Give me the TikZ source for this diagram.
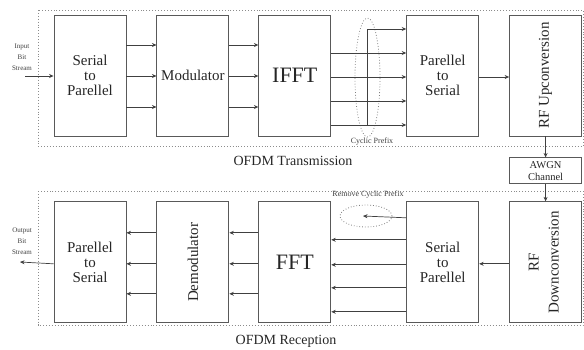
\documentclass[tikz,border=0pt]{standalone}
\usepackage{fontspec}
\setmainfont{Liberation Serif}
\usetikzlibrary{arrows.meta,positioning,shapes.geometric}

\begin{document}
\begin{tikzpicture}[
  x=1pt, y=-1pt,
  >={Stealth[length=4.5pt,width=4pt]},
  blk/.style={draw=black!65, line width=0.9pt, align=center, minimum width=72pt, minimum height=121pt, inner sep=0pt, font=\fontsize{15}{15}\selectfont, text=black!85},
  chan/.style={draw=black!65, line width=0.9pt, align=center, minimum width=72pt, minimum height=26pt, inner sep=0pt, font=\fontsize{10.5}{12}\selectfont, text=black!85},
  ofdmframe/.style={draw=black!45, dotted, line width=0.9pt},
  link/.style={->, draw=black!75, line width=0.7pt},
  tinylbl/.style={align=center, text=black!75, inner sep=0pt, font=\fontsize{7}{11}\selectfont},
  notelbl/.style={text=black!75, inner sep=0pt, font=\fontsize{8}{9}\selectfont},
  caplbl/.style={text=black!85, inner sep=0pt, font=\fontsize{14}{16}\selectfont},
  cpring/.style={ellipse, draw=black!50, dotted, line width=0.8pt, inner sep=0pt},
  node distance=30pt
]
\useasboundingbox (0,0) rectangle (584,349);

% dotted frames
\draw[ofdmframe] (38,10) rectangle (583,146);
\draw[ofdmframe] (38,191) rectangle (583,325);

% transmitter
\node[blk] (sp) at (90,75.5) {Serial\\to\\Parellel};
\node[blk, right=of sp] (mod) {Modulator};
\node[blk, right=29pt of mod, font=\fontsize{22}{22}\selectfont] (ifft) {IFFT};
\node[blk, right=75pt of ifft] (ps) {Parellel\\to\\Serial};
\node[blk, right=of ps] (rfu) {\rotatebox{90}{RF Upconversion}};
\node[chan, below=21pt of rfu] (awgn) {AWGN\\Channel};

% receiver
\node[blk, below=17pt of awgn] (rfd) {\rotatebox{90}{\begin{tabular}{@{}c@{}}RF\\[5pt]Downconversion\end{tabular}}};
\node[blk, left=of rfd] (sp2) {Serial\\to\\Parellel};
\node[blk, left=75pt of sp2, font=\fontsize{22}{22}\selectfont] (fft) {FFT};
\node[blk, left=29pt of fft] (dem) {\rotatebox{90}{Demodulator}};
\node[blk, left=of dem] (ps2) {Parellel\\to\\Serial};

% labels
\node[caplbl] (txcap) at (293,161) {OFDM Transmission};
\node[caplbl] (rxcap) at (286,341) {OFDM Reception};
\node[tinylbl] (inlbl) at (22,57) {Input\\Bit\\Stream};
\node[tinylbl] (outlbl) at (22,241) {Output\\Bit\\Stream};
\node[cpring, minimum width=25pt, minimum height=119pt] (cpe) at (367.5,77.5) {};
\node[notelbl] (cpl) at (372,142) {Cyclic Prefix};
\node[cpring, minimum width=52pt, minimum height=22pt] (rcp) at (366,216) {};
\node[notelbl] (rcpl) at (368,195) {Remove Cyclic Prefix};

% transmitter links
\coordinate (in) at (25,76);
\draw[link] (in) -- (in -| sp.west);
\foreach \dy in {30.5,-0.5,-31.5}
  \draw[link] ([yshift=\dy pt]sp.east) -- ([yshift=\dy pt]mod.west);
\foreach \dy in {30.5,-0.5,-31.5}
  \draw[link] ([yshift=\dy pt]mod.east) -- ([yshift=\dy pt]ifft.west);
\foreach \dy in {22.5,-1.5,-25.5,-49.5}
  \draw[link] ([yshift=\dy pt]ifft.east) -- ([yshift=\dy pt]ps.west);
\coordinate (cp) at (367,125);
\draw[link] (cp) |- ([yshift=46.5pt]ps.west);
\draw[link] ([yshift=-1.5pt]ps.east) -- ([yshift=-1.5pt]rfu.west);
\draw[link] (rfu) -- (awgn);
\draw[link] (awgn) -- (rfd);

% receiver links
\draw[link] ([yshift=-1.5pt]rfd.west) -- ([yshift=-1.5pt]sp2.east);
\foreach \dy in {22.5,-2.5,-25.5,-49.5}
  \draw[link] ([yshift=\dy pt]sp2.west) -- ([yshift=\dy pt]fft.east);
\draw[link] ([yshift=44.5pt]sp2.west) -- ([xshift=-3pt]rcp.center);
\foreach \dy in {29.5,-1.5,-31.5}
  \draw[link] ([yshift=\dy pt]fft.west) -- ([yshift=\dy pt]dem.east);
\foreach \dy in {29.5,-1.5,-31.5}
  \draw[link] ([yshift=\dy pt]dem.west) -- ([yshift=\dy pt]ps2.east);
\coordinate (out) at (20,262);
\draw[link] ([yshift=-1.5pt]ps2.west) -- (out);
\end{tikzpicture}
\end{document}
